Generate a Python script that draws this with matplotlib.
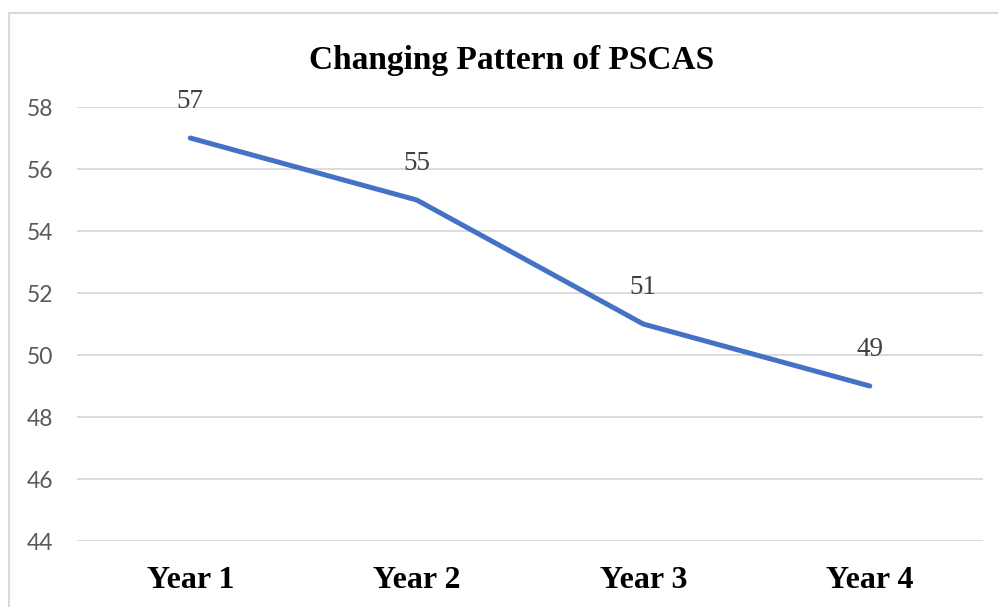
import matplotlib.pyplot as plt
from matplotlib.patches import Rectangle

# 数据
years = ['Year 1', 'Year 2', 'Year 3', 'Year 4']
pscas = [57, 55, 51, 49]
yticks = [44, 46, 48, 50, 52, 54, 56, 58]

fig = plt.figure(figsize=(9.98, 6.07), dpi=100)
ax = fig.add_axes([0.0772, 0.1087, 0.9078, 0.715])

# 外框
fig.patches.append(Rectangle((9 / 998, -0.1), 1.2, 1 - 13 / 607 + 0.1,
                             transform=fig.transFigure, fill=False,
                             edgecolor='#D9D9D9', linewidth=1.5))

x = list(range(len(years)))
ax.plot(x, pscas, color='#4472C4', linewidth=3.6, solid_capstyle='round',
        solid_joinstyle='round', zorder=3)

# 数据标签
for xi, v in zip(x, pscas):
    ax.annotate(str(v), (xi, v), xytext=(0, 26), textcoords='offset points',
                ha='center', va='center', fontsize=19.5,
                family='Liberation Serif', color='#404040')

ax.set_xlim(-0.5, len(years) - 0.5)
ax.set_ylim(44, 58)
ax.set_yticks(yticks)
ax.set_xticks(x)
ax.set_xticklabels(years, fontsize=23, family='Liberation Serif',
                   fontweight='bold', color='black')
ax.tick_params(axis='x', length=0, pad=18)
ax.tick_params(axis='y', length=0, pad=17, labelsize=16.5, labelcolor='#595959')
for lab in ax.get_yticklabels():
    lab.set_family('Lato')

ax.grid(axis='y', color='#D9D9D9', linewidth=1.3)
ax.set_axisbelow(True)
for s in ax.spines.values():
    s.set_visible(False)

fig.text(0.5125, 0.9005, 'Changing Pattern of PSCAS', ha='center', va='center',
         fontsize=24, family='Liberation Serif', fontweight='bold')

fig.savefig('out.png', dpi=100)
